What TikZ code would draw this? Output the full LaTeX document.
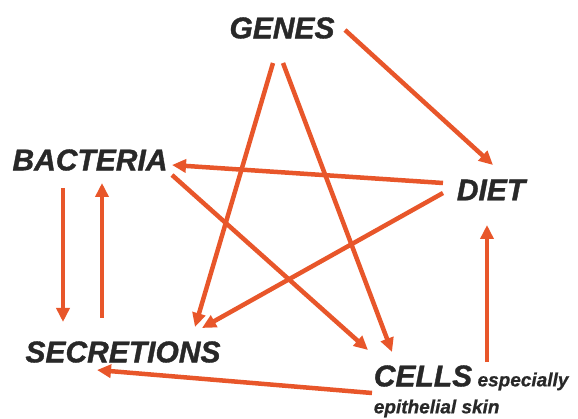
\documentclass[tikz,border=0pt]{standalone}
\usepackage{fontspec}
\setmainfont{Liberation Sans}
\usetikzlibrary{arrows.meta}
\definecolor{rust}{RGB}{232,86,42}
\definecolor{ink}{RGB}{40,40,40}
\tikzstyle{link} = [draw=rust, line width=4.5pt, -{Triangle[length=14pt,width=13pt]}]
\tikzstyle{word} = [inner sep=0pt, text=ink, font=\fontsize{30}{30}\selectfont\bfseries\itshape\addfontfeature{FakeBold=1.2}]
\tikzstyle{small} = [word, anchor=base west, font=\fontsize{19}{19}\selectfont\bfseries\itshape\addfontfeature{FakeBold=0.8}]

\begin{document}
\begin{tikzpicture}[x=1pt,y=-1pt]
            \useasboundingbox (0,0) rectangle (578,419);
            \node [word] (genes) at (282,28) {GENES};
            \node [word] (bacteria) at (90,160) {BACTERIA};
            \node [word] (diet) at (491,190) {DIET};
            \node [word] (secretions) at (123,352) {SECRETIONS};
            \node [word] (cells) at (423,376) {CELLS};
            \node [small] (especially) at ([xshift=5pt]cells.base east) {especially};
            \node [small] (skin) at ([yshift=-27pt]cells.base west) {epithelial skin};
            % out of genes
            \draw [link] ([shift={(63,2)}]genes.center) -- ([shift={(2,-25)}]diet.center);
            \draw [link] ([shift={(-9,35)}]genes.center) -- ([shift={(72,-25)}]secretions.center);
            \draw [link] ([shift={(1,35)}]genes.center) -- ([shift={(-31,-24)}]cells.center);
            % out of diet
            \draw [link] ([shift={(-48,-7)}]diet.center) -- ([shift={(82,5)}]bacteria.center);
            \draw [link] ([shift={(-48,3)}]diet.center) -- ([shift={(79,-24)}]secretions.center);
            % bacteria and secretions
            \draw [link] ([shift={(82,15)}]bacteria.center) -- ([shift={(-55,-26)}]cells.center);
            \draw [link] ([shift={(-27,28)}]bacteria.center) -- ([shift={(-60,-30)}]secretions.center);
            \draw [link] ([shift={(-21,-34)}]secretions.center) -- ([shift={(12,23)}]bacteria.center);
            % out of cells
            \draw [link] ([shift={(64,-14)}]cells.center) -- ([shift={(-4,35)}]diet.center);
            \draw [link] ([shift={(-51,17)}]cells.center) -- ([shift={(-26,18)}]secretions.center);
\end{tikzpicture}
\end{document}
